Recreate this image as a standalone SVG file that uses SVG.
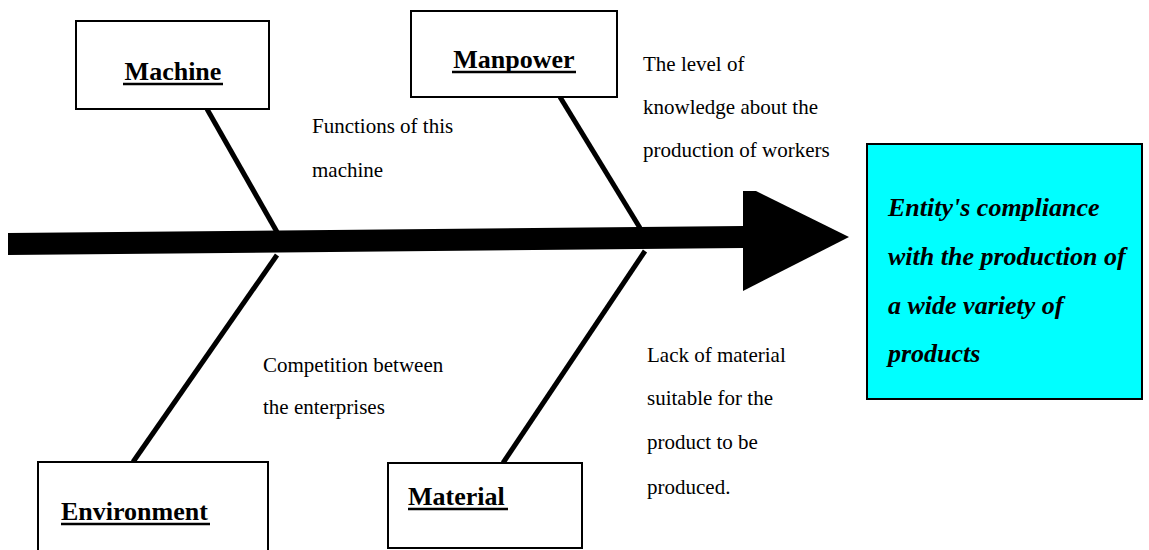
<svg xmlns="http://www.w3.org/2000/svg" width="1149" height="550" viewBox="0 0 1149 550">
  <style>
    .box { fill: #ffffff; stroke: #000000; stroke-width: 2; }
    .effect { fill: #00ffff; stroke: #000000; stroke-width: 2; }
    .label { font-family: "Liberation Serif", "Times New Roman", serif; font-weight: bold; font-size: 26px; fill: #000000; }
    .ul { stroke: #000000; stroke-width: 2.5; }
    .note { font-family: "Liberation Serif", "Times New Roman", serif; font-size: 21px; fill: #000000; }
    .goal { font-family: "Liberation Serif", "Times New Roman", serif; font-weight: bold; font-style: italic; font-size: 26px; fill: #000000; }
    .bone { stroke: #000000; stroke-width: 5; fill: none; }
  </style>

  <rect width="1149" height="550" fill="#ffffff"/>

  <!-- spine, bones and arrowhead -->
  <g id="connectors">
    <polygon points="8,233 743,226 743,248 8,255" fill="#000000"/>
    <polygon points="743,191 756,191 849,237 743,291" fill="#000000"/>
    <line class="bone" x1="207" y1="109" x2="277" y2="232"/>
    <line class="bone" x1="277" y1="255" x2="133" y2="462"/>
    <line class="bone" x1="560" y1="97" x2="640" y2="228"/>
    <line class="bone" x1="645" y1="251" x2="503" y2="463"/>
  </g>

  <g id="machine">
    <rect class="box" x="76" y="21" width="193" height="88"/>
    <text class="label" x="173" y="80" text-anchor="middle">Machine</text>
    <line class="ul" x1="123" y1="84" x2="223" y2="84"/>
  </g>

  <g id="manpower">
    <rect class="box" x="411" y="11" width="206" height="86"/>
    <text class="label" x="514" y="68" text-anchor="middle">Manpower</text>
    <line class="ul" x1="452" y1="72" x2="576" y2="72"/>
  </g>

  <g id="environment">
    <rect class="box" x="38" y="462" width="230" height="110"/>
    <text class="label" x="61" y="520">Environment</text>
    <line class="ul" x1="61" y1="524" x2="210" y2="524"/>
  </g>

  <g id="material">
    <rect class="box" x="388" y="463" width="194" height="85"/>
    <text class="label" x="408" y="505">Material</text>
    <line class="ul" x1="408" y1="509" x2="508" y2="509"/>
  </g>

  <g id="effect">
    <rect class="effect" x="867" y="144" width="275" height="255"/>
    <text class="goal" x="888" y="216">Entity's compliance</text>
    <text class="goal" x="888" y="265">with the production of</text>
    <text class="goal" x="888" y="313.5">a wide variety of</text>
    <text class="goal" x="888" y="362">products</text>
  </g>

  <g id="cause-machine">
    <text class="note" x="312" y="133">Functions of this</text>
    <text class="note" x="312" y="177">machine</text>
  </g>

  <g id="cause-manpower">
    <text class="note" x="643" y="70.5">The level of</text>
    <text class="note" x="643" y="114">knowledge about the</text>
    <text class="note" x="643" y="156.5">production of workers</text>
  </g>

  <g id="cause-environment">
    <text class="note" x="263" y="371.5">Competition between</text>
    <text class="note" x="263" y="414">the enterprises</text>
  </g>

  <g id="cause-material">
    <text class="note" x="647" y="362">Lack of material</text>
    <text class="note" x="647" y="405">suitable for the</text>
    <text class="note" x="647" y="449">product to be</text>
    <text class="note" x="647" y="494">produced.</text>
  </g>
</svg>
